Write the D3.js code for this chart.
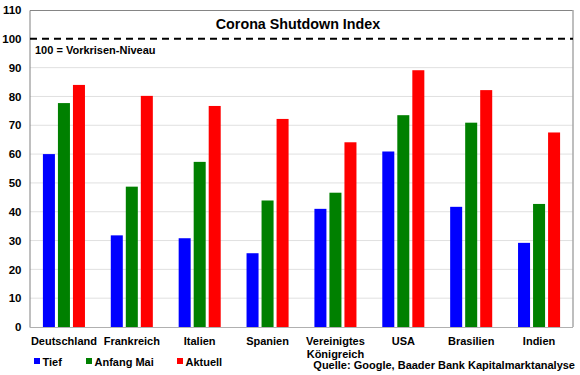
<!DOCTYPE html>
<html><head><meta charset="utf-8">
<script src="https://cdn.jsdelivr.net/npm/d3@7"></script>
<style>
html,body{margin:0;padding:0;background:#fff;}
svg{display:block;font-family:"Liberation Sans",Arial,sans-serif;font-weight:bold;}
</style></head>
<body>
<svg id="chart" width="580" height="375"></svg>
<script>
const categories = ["Deutschland","Frankreich","Italien","Spanien","Vereinigtes Königreich","USA","Brasilien","Indien"];
const categoryLines = [["Deutschland"],["Frankreich"],["Italien"],["Spanien"],["Vereinigtes","Königreich"],["USA"],["Brasilien"],["Indien"]];
const seriesNames = ["Tief","Anfang Mai","Aktuell"];
const tief = [60.0, 31.8, 30.8, 25.6, 41.0, 60.9, 41.7, 29.2];
const anfangMai = [77.7, 48.7, 57.3, 43.9, 46.6, 73.5, 70.9, 42.7];
const aktuell = [84.0, 80.2, 76.7, 72.2, 64.1, 89.1, 82.2, 67.5];
const yTicks = [0,10,20,30,40,50,60,70,80,90,100,110];
const colors = ["#0000ff","#008000","#ff0000"];
const title = "Corona Shutdown Index";
const refLabel = "100 = Vorkrisen-Niveau";
const source = "Quelle: Google, Baader Bank Kapitalmarktanalyse";

const series = [tief, anfangMai, aktuell];
const svg = d3.select("#chart");
const pLeft = 30, pRight = 573, pTop = 10, pBottom = 327;

const y = d3.scaleLinear().domain([0,110]).range([pBottom, pTop]);
const x0 = d3.scaleBand().domain(categories).range([pLeft, pRight]).padding(0);
const x1 = d3.scaleBand().domain(seriesNames).range([0, x0.bandwidth()]).paddingInner(0.2).paddingOuter(0.86);

// gridlines
svg.append("g").selectAll("line").data(yTicks.filter(t => t > 0 && t < 100)).join("line")
  .attr("x1", pLeft).attr("x2", pRight)
  .attr("y1", d => y(d)).attr("y2", d => y(d))
  .attr("stroke", "#e0e0e0").attr("stroke-width", 1);

// frame
svg.append("line").attr("x1", pLeft).attr("x2", pRight).attr("y1", y(110)+0.5).attr("y2", y(110)+0.5).attr("stroke", "#858585").attr("stroke-width", 1);
svg.append("line").attr("x1", pRight).attr("x2", pRight).attr("y1", pTop).attr("y2", pBottom).attr("stroke", "#a8a8a8").attr("stroke-width", 1.5);

// bars
const groups = svg.append("g").selectAll("g").data(categories).join("g")
  .attr("transform", d => `translate(${x0(d)},0)`);
groups.selectAll("rect").data((d, i) => series.map((s, k) => ({k, v: s[i]}))).join("rect")
  .attr("x", d => x1(seriesNames[d.k]))
  .attr("width", x1.bandwidth())
  .attr("y", d => y(d.v))
  .attr("height", d => y(0) - y(d.v))
  .attr("fill", d => colors[d.k]);

// axes
const yAxis = d3.axisLeft(y).tickValues(yTicks).tickSize(0).tickPadding(8);
const ya = svg.append("g").attr("transform", `translate(${pLeft - 0.5},0)`).call(yAxis);
ya.select(".domain").attr("stroke", "#808080");
ya.selectAll("text").attr("font-size", "11.5px").attr("font-weight", "bold").attr("fill", "#000")
  .attr("font-family", "Liberation Sans, Arial, sans-serif");

svg.append("line").attr("x1", pLeft).attr("x2", pRight).attr("y1", pBottom + 0.5).attr("y2", pBottom + 0.5).attr("stroke", "#b0b0b0");

// category labels
const xl = svg.append("g");
categories.forEach((c, i) => {
  const t = xl.append("text").attr("x", x0(c) + x0.bandwidth()/2).attr("y", 345)
    .attr("text-anchor", "middle").attr("font-size", "11px").attr("fill", "#000");
  categoryLines[i].forEach((ln, j) => {
    t.append("tspan").attr("x", x0(c) + x0.bandwidth()/2).attr("dy", j === 0 ? 0 : 12.5).text(ln);
  });
});

// 100 line
svg.append("line").attr("x1", pLeft).attr("x2", pRight).attr("y1", y(100)).attr("y2", y(100))
  .attr("stroke", "#000").attr("stroke-width", 2).attr("stroke-dasharray", "7,5");

svg.append("text").attr("x", 35).attr("y", 54).attr("font-size", "11px").attr("fill", "#000").text(refLabel);

// title
svg.append("text").attr("x", 298).attr("y", 29).attr("text-anchor", "middle").attr("font-size", "14.3px").attr("fill", "#000").text(title);

// legend
const legX = [34, 86, 177];
seriesNames.forEach((s, k) => {
  svg.append("rect").attr("x", legX[k]).attr("y", 358).attr("width", 6).attr("height", 6).attr("fill", colors[k]);
  svg.append("text").attr("x", legX[k] + 8.5).attr("y", 365.5).attr("font-size", "11px").attr("fill", "#000").text(s);
});

// source
svg.append("text").attr("x", 575).attr("y", 369).attr("text-anchor", "end").attr("font-size", "11px").attr("fill", "#000").text(source);
</script>
</body></html>
